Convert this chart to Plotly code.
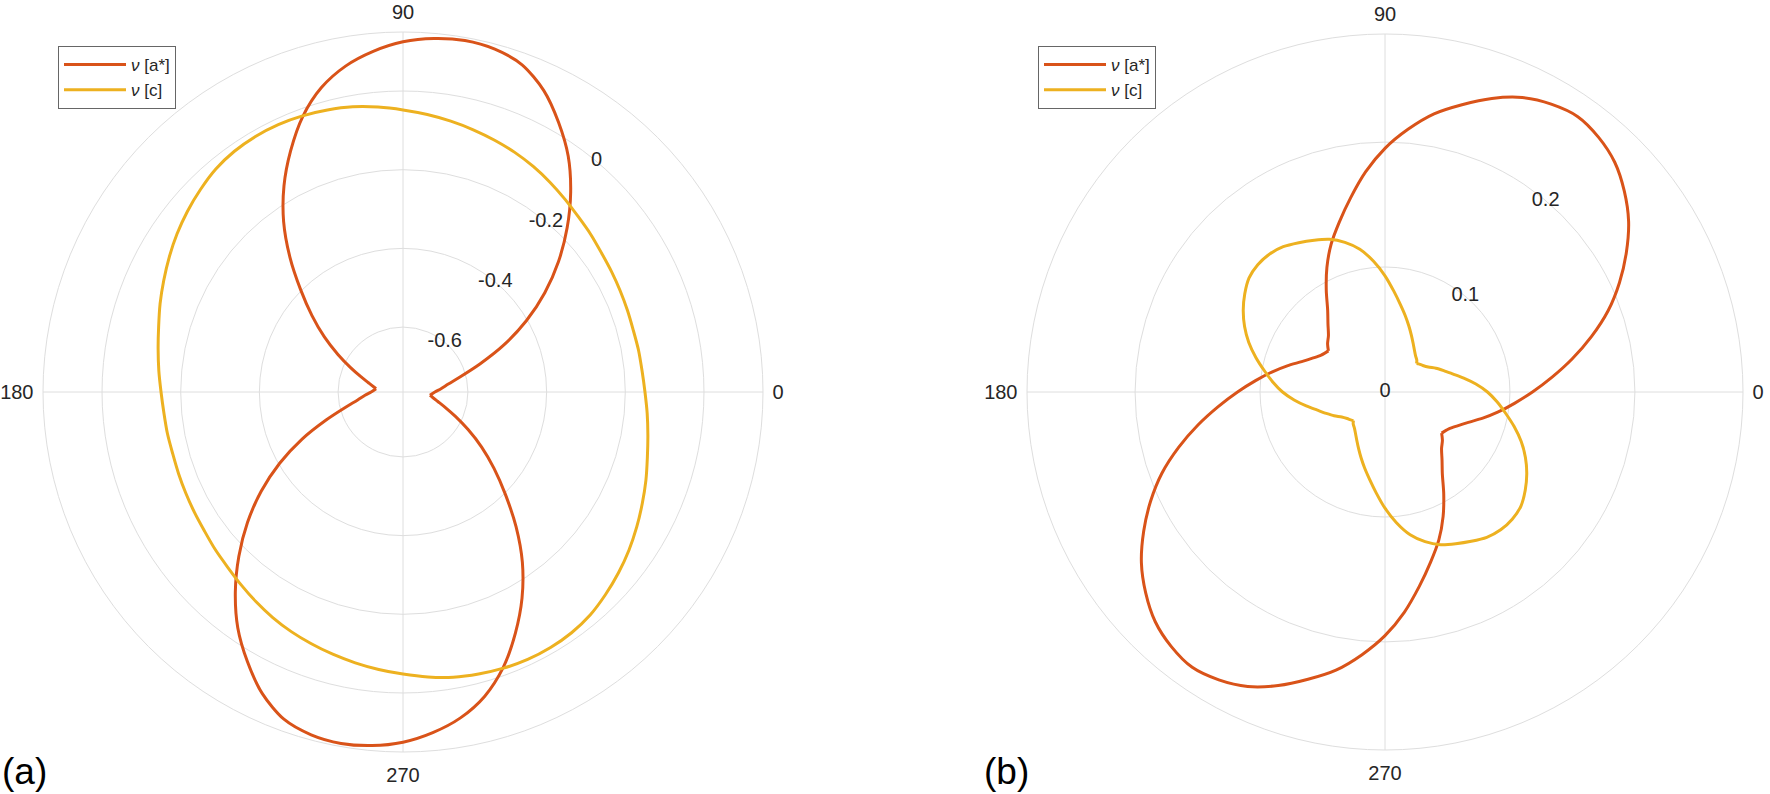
import plotly.graph_objects as go

# (a) angle in degrees, nu values
theta_a_star = [-7, 0, 5, 10, 15, 20, 25, 30, 35, 40, 45, 50, 55, 60, 65, 70, 75, 80, 85, 90,
                95, 100, 105, 110, 115, 120, 125, 130, 135, 140, 145, 150, 155, 160, 165, 170, 173,
                180, 185, 190, 195, 200, 205, 210, 215, 220, 225, 230, 235, 240, 245, 250, 255, 260,
                265, 270, 275, 280, 285, 290, 295, 300, 305, 310, 315, 320, 325, 330, 335, 340, 345,
                350, 353]
nu_a_star = [-0.696, -0.684, -0.668, -0.648, -0.613, -0.557, -0.482, -0.403, -0.325, -0.249,
             -0.175, -0.102, -0.033, 0.026, 0.081, 0.120, 0.137, 0.142, 0.137, 0.125,
             0.104, 0.076, 0.036, -0.020, -0.089, -0.160, -0.236, -0.318, -0.397, -0.463,
             -0.521, -0.574, -0.618, -0.651, -0.674, -0.689, -0.696,
             -0.684, -0.668, -0.648, -0.613, -0.557, -0.482, -0.403, -0.325, -0.249,
             -0.175, -0.102, -0.033, 0.026, 0.081, 0.120, 0.137, 0.142, 0.137, 0.125,
             0.104, 0.076, 0.036, -0.020, -0.089, -0.160, -0.236, -0.318, -0.397, -0.463,
             -0.521, -0.574, -0.618, -0.651, -0.674, -0.689, -0.696]

theta_a_c = [0, 5, 10, 15, 20, 25, 30, 35, 40, 45, 50, 55, 60, 65, 70, 75, 80, 85, 90, 95,
             100, 105, 110, 115, 120, 125, 130, 135, 140, 145, 150, 155, 160, 165, 170, 175,
             180, 185, 190, 195, 200, 205, 210, 215, 220, 225, 230, 235, 240, 245, 250, 255,
             260, 265, 270, 275, 280, 285, 290, 295, 300, 305, 310, 315, 320, 325, 330, 335,
             340, 345, 350, 355, 360]
nu_a_c = [-0.150, -0.155, -0.157, -0.159, -0.158, -0.156, -0.153, -0.149, -0.142, -0.135,
          -0.125, -0.114, -0.103, -0.093, -0.084, -0.075, -0.066, -0.057, -0.048, -0.038,
          -0.029, -0.023, -0.018, -0.015, -0.015, -0.018, -0.025, -0.037, -0.050, -0.064,
          -0.079, -0.094, -0.108, -0.122, -0.133, -0.142,
          -0.150, -0.155, -0.157, -0.159, -0.158, -0.156, -0.153, -0.149, -0.142, -0.135,
          -0.125, -0.114, -0.103, -0.093, -0.084, -0.075, -0.066, -0.057, -0.048, -0.038,
          -0.029, -0.023, -0.018, -0.015, -0.015, -0.018, -0.025, -0.037, -0.050, -0.064,
          -0.079, -0.094, -0.108, -0.122, -0.133, -0.142, -0.150]

# (b)
theta_b_star = [0, 5, 10, 15, 20, 25, 30, 35, 40, 45, 50, 55, 60, 65, 70, 75, 80, 85, 90, 95,
                100, 105, 110, 115, 120, 125, 130, 135, 140, 144, 150, 155, 160, 165, 170, 175,
                180, 185, 190, 195, 200, 205, 210, 215, 220, 225, 230, 235, 240, 245, 250, 255,
                260, 265, 270, 275, 280, 285, 290, 295, 300, 305, 310, 315, 320, 324, 330, 335,
                340, 345, 350, 355, 360]
nu_b_star = [0.118, 0.134, 0.152, 0.171, 0.190, 0.207, 0.223, 0.238, 0.250, 0.260, 0.266,
             0.269, 0.266, 0.260, 0.250, 0.238, 0.226, 0.211, 0.195, 0.177, 0.158, 0.141,
             0.126, 0.110, 0.094, 0.080, 0.071, 0.064, 0.060, 0.056, 0.059, 0.064, 0.071,
             0.081, 0.092, 0.104,
             0.118, 0.134, 0.152, 0.171, 0.190, 0.207, 0.223, 0.238, 0.250, 0.260, 0.266,
             0.269, 0.266, 0.260, 0.250, 0.238, 0.226, 0.211, 0.195, 0.177, 0.158, 0.141,
             0.126, 0.110, 0.094, 0.080, 0.071, 0.064, 0.060, 0.056, 0.059, 0.064, 0.071,
             0.081, 0.092, 0.104, 0.118]

theta_b_c = [0, 5, 10, 15, 20, 25, 30, 35, 40, 42, 45, 50, 55, 60, 65, 70, 75, 80, 85, 90, 95,
             100, 105, 110, 115, 120, 125, 130, 135, 140, 145, 150, 155, 160, 165, 170, 175,
             180, 185, 190, 195, 200, 205, 210, 215, 220, 222, 225, 230, 235, 240, 245, 250, 255,
             260, 265, 270, 275, 280, 285, 290, 295, 300, 305, 310, 315, 320, 325, 330, 335,
             340, 345, 350, 355, 360]
nu_b_c = [0.082, 0.073, 0.064, 0.056, 0.050, 0.045, 0.040, 0.037, 0.035, 0.034, 0.036, 0.038,
          0.041, 0.045, 0.050, 0.056, 0.063, 0.071, 0.081, 0.093, 0.105, 0.116, 0.124,
          0.130, 0.134, 0.138, 0.142, 0.144, 0.144, 0.142, 0.137, 0.131, 0.124, 0.116,
          0.107, 0.098, 0.090,
          0.082, 0.073, 0.064, 0.056, 0.050, 0.045, 0.040, 0.037, 0.035, 0.034, 0.036, 0.038,
          0.041, 0.045, 0.050, 0.056, 0.063, 0.071, 0.081, 0.093, 0.105, 0.116, 0.124,
          0.130, 0.134, 0.138, 0.142, 0.144, 0.144, 0.142, 0.137, 0.131, 0.124, 0.116,
          0.107, 0.098, 0.090, 0.082]

# angles where the curves have a sharp cusp / corner
cusps_a_star = [173]
cusps_b_star = [144, 324]
cusps_b_c = [42, 222]

rticks_a = [-0.6, -0.4, -0.2, 0]
rticks_b = [0, 0.1, 0.2]
rlabel_angle = 50
angle_ticks = [0, 90, 180, 270]

RED = "#D95319"
YELLOW = "#EDB120"
GRID = "#dedede"
TEXT = "#262626"
FONT = "Liberation Sans, Arial, sans-serif"


def split_at(theta, r, cusps):
    # cut a closed curve into smooth pieces that end on its corners
    idx = [theta.index(c) for c in cusps]
    if len(idx) == 1:
        return [(theta[:idx[0] + 1], r[:idx[0] + 1]), (theta[idx[0]:], r[idx[0]:])]
    i, j = idx
    first = (theta[i:j + 1], r[i:j + 1])
    second = (theta[j:] + [t + 360 for t in theta[1:i + 1]], r[j:] + r[1:i + 1])
    return [first, second]


fig = go.Figure()


def add_curve(theta, r, name, color, subplot, legend, cusps=None):
    pieces = split_at(theta, r, cusps) if cusps else [(theta, r)]
    for k, (t, v) in enumerate(pieces):
        fig.add_trace(go.Scatterpolar(r=v, theta=t, mode="lines", name=name, legendgroup=name + subplot,
                                      showlegend=(k == 0), hoverinfo="skip",
                                      line=dict(color=color, width=3, shape="spline", smoothing=0.8),
                                      subplot=subplot, legend=legend))


def add_rlabels(rticks, subplot):
    fig.add_trace(go.Scatterpolar(r=rticks, theta=[rlabel_angle] * len(rticks), mode="text",
                                  text=[f"{v:g}" for v in rticks], textposition="middle center",
                                  textfont=dict(size=20, color=TEXT, family=FONT),
                                  showlegend=False, hoverinfo="skip", subplot=subplot))


add_rlabels(rticks_a, "polar")
add_rlabels(rticks_b, "polar2")
add_curve(theta_a_star, nu_a_star, "<i>ν</i> [a*]", RED, "polar", "legend", cusps_a_star)
add_curve(theta_a_c, nu_a_c, "<i>ν</i> [c]", YELLOW, "polar", "legend")
add_curve(theta_b_star, nu_b_star, "<i>ν</i> [a*]", RED, "polar2", "legend2", cusps_b_star)
add_curve(theta_b_c, nu_b_c, "<i>ν</i> [c]", YELLOW, "polar2", "legend2", cusps_b_c)


def polar_axes(domain_x, domain_y, rrange, rticks):
    return dict(
        domain=dict(x=domain_x, y=domain_y),
        bgcolor="white",
        radialaxis=dict(range=rrange, tickvals=rticks, showticklabels=False, angle=rlabel_angle,
                        showline=False, ticks="", gridcolor=GRID, gridwidth=1),
        angularaxis=dict(rotation=0, direction="counterclockwise", tickvals=angle_ticks,
                         ticktext=[str(a) for a in angle_ticks], ticks="outside", ticklen=5,
                         tickcolor="rgba(0,0,0,0)", showline=True,
                         linecolor=GRID, linewidth=1, gridcolor=GRID, gridwidth=1,
                         tickfont=dict(size=20, color=TEXT, family=FONT)),
    )


legend_style = dict(xanchor="left", yanchor="top", bgcolor="white", bordercolor="#666666", borderwidth=1,
                    font=dict(size=17, color=TEXT, family=FONT), tracegroupgap=0, itemwidth=62)

fig.update_layout(
    width=1770, height=794,
    margin=dict(l=0, r=0, t=0, b=0),
    paper_bgcolor="white",
    font=dict(family=FONT),
    polar=polar_axes([43 / 1770, 763 / 1770], [42 / 794, 762 / 794], [-0.765, 0.15], rticks_a),
    polar2=polar_axes([1027 / 1770, 1743 / 1770], [44 / 794, 760 / 794], [0, 0.2865], rticks_b),
    legend=dict(x=58 / 1770, y=1 - 46 / 794, **legend_style),
    legend2=dict(x=1038 / 1770, y=1 - 46 / 794, **legend_style),
    showlegend=True,
    annotations=[
        dict(text="(a)", x=0, y=0, xref="paper", yref="paper", xanchor="left", yanchor="bottom",
             showarrow=False, font=dict(size=37, color="black", family=FONT)),
        dict(text="(b)", x=982 / 1770, y=0, xref="paper", yref="paper", xanchor="left", yanchor="bottom",
             showarrow=False, font=dict(size=37, color="black", family=FONT)),
    ],
)

# the page body has an 8px default margin; drop it so the figure fills the window
fig.write_html("out.html", config={"displayModeBar": False},
               post_script="document.body.style.margin='0';")
